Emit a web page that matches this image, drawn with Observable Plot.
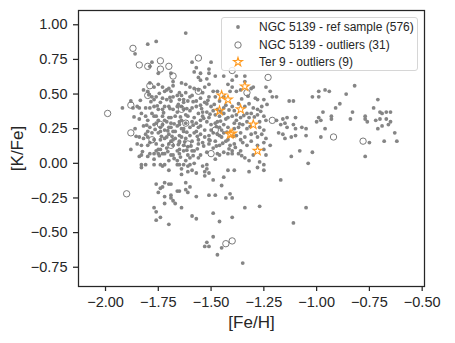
<!DOCTYPE html>
<html><head><meta charset="utf-8">
<script src="https://cdn.jsdelivr.net/npm/d3@7"></script>
<script src="https://cdn.jsdelivr.net/npm/@observablehq/plot@0.6"></script>
<style>
body{margin:0;background:#fff;}
#wrap{position:relative;width:455px;height:343px;font-family:"Liberation Sans",Arial,sans-serif;}
#legend{position:absolute;left:221px;top:17px;width:197px;height:54px;box-sizing:border-box;border:1px solid #d6d6d6;border-radius:3px;background:rgba(255,255,255,0.82);}
.row{position:absolute;left:0;height:18px;width:195px;font-size:12px;color:#262626;white-space:nowrap;}
.row svg{position:absolute;left:6px;top:0;}
.row span{position:absolute;left:37px;top:1px;line-height:16px;}
</style></head>
<body><div id="wrap"><div id="legend"></div></div>
<script>
const xTicks = [-2.0, -1.75, -1.5, -1.25, -1.0, -0.75, -0.5];
const yTicks = [-0.75, -0.5, -0.25, 0, 0.25, 0.5, 0.75, 1.0];
const xLabel = "[Fe/H]";
const yLabel = "[K/Fe]";
const legendLabels = ["NGC 5139 - ref sample (576)", "NGC 5139 - outliers (31)", "Ter 9 - outliers (9)"];

// NGC 5139 reference sample: [Fe/H], [K/Fe]
const refSample = [
[-1.62,0.94],[-1.80,0.86],[-1.76,0.88],[-1.86,0.79],[-1.78,0.73],[-1.79,0.70],[-1.75,0.65],[-1.69,0.65],[-1.68,0.59],[-1.59,0.73],[-1.58,0.66],[-1.62,0.57],[-1.79,0.58],[-1.82,0.53],[-1.80,0.52],[-1.77,0.55],[-1.75,0.57],[-1.73,0.55],[-1.71,0.53],[-1.70,0.54],[-1.69,0.52],[-1.65,0.51],[-1.64,0.49],[-1.62,0.51],[-1.60,0.48],[-1.58,0.54],[-1.78,0.48],[-1.76,0.48],[-1.73,0.47],[-1.71,0.46],[-1.68,0.48],[-1.65,0.46],[-1.63,0.46],[-1.61,0.45],[-1.92,0.40],[-1.88,0.45],[-1.87,0.40],[-1.84,0.40],[-1.81,0.40],[-1.79,0.40],[-1.77,0.41],[-1.75,0.39],[-1.72,0.41],[-1.70,0.41],[-1.68,0.39],[-1.66,0.41],[-1.64,0.41],[-1.63,0.39],[-1.59,0.40],[-1.81,0.34],[-1.80,0.31],[-1.77,0.34],[-1.75,0.31],[-1.73,0.34],[-1.71,0.30],[-1.69,0.33],[-1.67,0.34],[-1.65,0.30],[-1.64,0.31],[-1.61,0.34],[-1.59,0.30],[-1.79,0.26],[-1.77,0.28],[-1.74,0.26],[-1.73,0.28],[-1.70,0.26],[-1.69,0.26],[-1.66,0.27],[-1.65,0.28],[-1.63,0.25],[-1.60,0.26],[-1.80,0.23],[-1.78,0.22],[-1.75,0.22],[-1.72,0.24],[-1.70,0.21],[-1.68,0.23],[-1.65,0.20],[-1.63,0.23],[-1.60,0.20],[-1.84,0.19],[-1.82,0.18],[-1.80,0.19],[-1.77,0.17],[-1.74,0.17],[-1.72,0.18],[-1.69,0.16],[-1.67,0.18],[-1.65,0.16],[-1.62,0.18],[-1.59,0.16],[-1.85,0.14],[-1.83,0.13],[-1.80,0.13],[-1.76,0.14],[-1.73,0.13],[-1.70,0.14],[-1.68,0.13],[-1.65,0.15],[-1.63,0.13],[-1.85,0.41],[-1.83,0.36],
[-1.50,0.73],[-1.57,0.69],[-1.51,0.68],[-1.55,0.65],[-1.51,0.65],[-1.55,0.60],[-1.52,0.61],[-1.48,0.63],[-1.44,0.63],[-1.40,0.60],[-1.38,0.63],[-1.34,0.63],[-1.42,0.57],[-1.40,0.55],[-1.51,0.57],[-1.56,0.53],[-1.54,0.51],[-1.51,0.48],[-1.49,0.52],[-1.48,0.48],[-1.38,0.52],[-1.36,0.53],[-1.31,0.54],[-1.29,0.47],[-1.28,0.46],[-1.24,0.55],[-1.21,0.48],[-1.19,0.48],[-1.13,0.45],[-1.11,0.45],[-1.57,0.45],[-1.55,0.42],[-1.53,0.44],[-1.50,0.41],[-1.47,0.39],[-1.43,0.42],[-1.40,0.41],[-1.39,0.38],[-1.34,0.41],[-1.32,0.43],[-1.30,0.40],[-1.28,0.39],[-1.26,0.41],[-1.56,0.36],[-1.54,0.34],[-1.52,0.37],[-1.51,0.33],[-1.48,0.35],[-1.46,0.34],[-1.44,0.36],[-1.42,0.33],[-1.40,0.34],[-1.38,0.35],[-1.36,0.33],[-1.33,0.36],[-1.32,0.33],[-1.28,0.35],[-1.25,0.34],[-1.24,0.31],[-1.19,0.31],[-1.17,0.28],[-1.14,0.26],[-1.10,0.25],[-1.07,0.26],[-1.05,0.25],[-1.57,0.29],[-1.55,0.27],[-1.52,0.30],[-1.50,0.28],[-1.48,0.29],[-1.46,0.26],[-1.44,0.28],[-1.42,0.26],[-1.39,0.29],[-1.37,0.26],[-1.35,0.28],[-1.33,0.25],[-1.27,0.26],[-1.25,0.24],[-1.57,0.23],[-1.55,0.21],[-1.53,0.24],[-1.51,0.20],[-1.49,0.22],[-1.46,0.20],[-1.44,0.22],[-1.38,0.20],[-1.36,0.22],[-1.34,0.19],[-1.31,0.21],[-1.28,0.19],[-1.26,0.21],[-1.24,0.18],[-1.18,0.22],[-1.15,0.18],[-1.12,0.19],[-1.56,0.17],[-1.54,0.15],[-1.51,0.17],[-1.48,0.16],[-1.46,0.13],[-1.43,0.16],[-1.39,0.14],[-1.36,0.17],[-1.33,0.13],[-1.31,0.16],[-1.28,0.13],[-1.25,0.15],[-1.22,0.13],[-1.56,0.62],[-1.34,0.59],[-1.30,0.55],[-1.25,0.46],[-1.14,0.33],[-1.16,0.32],[-1.15,0.29],[-1.10,0.33],[-1.11,0.28],[-1.16,0.21],[-1.10,0.20],[-1.05,0.20],[-1.22,0.52],
[-1.02,0.48],[-0.99,0.48],[-0.99,0.52],[-0.94,0.52],[-0.86,0.50],[-0.82,0.56],[-0.71,0.46],[-0.73,0.40],[-0.97,0.37],[-0.93,0.34],[-0.91,0.40],[-0.89,0.43],[-0.83,0.37],[-0.84,0.32],[-0.77,0.34],[-0.76,0.30],[-0.70,0.37],[-0.69,0.36],[-0.67,0.37],[-0.65,0.37],[-0.67,0.32],[-0.70,0.32],[-0.69,0.27],[-0.66,0.28],[-0.71,0.25],[-0.63,0.22],[-0.99,0.33],[-1.00,0.30],[-0.98,0.31],[-0.96,0.25],[-0.98,0.19],[-0.75,0.15],[-0.68,0.16],[-0.62,0.16],[-0.96,0.53],[-0.93,0.32],[-0.77,0.32],[-0.72,0.31],[-0.65,0.30],
[-1.88,0.10],[-1.84,0.05],[-1.83,0.06],[-1.79,0.07],[-1.77,0.07],[-1.76,0.09],[-1.75,0.07],[-1.74,0.10],[-1.73,0.07],[-1.72,0.07],[-1.69,0.06],[-1.68,0.06],[-1.65,0.07],[-1.63,0.09],[-1.61,0.06],[-1.60,0.04],[-1.58,0.09],[-1.77,0.03],[-1.83,-0.01],[-1.83,-0.03],[-1.81,-0.01],[-1.77,-0.01],[-1.74,-0.01],[-1.73,-0.02],[-1.72,-0.01],[-1.70,-0.05],[-1.66,0.02],[-1.66,-0.01],[-1.65,-0.01],[-1.63,-0.01],[-1.61,-0.02],[-1.60,-0.01],[-1.59,-0.05],[-1.64,-0.08],[-1.61,-0.06],[-1.76,-0.15],[-1.74,-0.18],[-1.73,-0.17],[-1.72,-0.14],[-1.70,-0.15],[-1.69,-0.15],[-1.75,-0.21],[-1.72,-0.24],[-1.69,-0.23],[-1.69,-0.25],[-1.68,-0.27],[-1.67,-0.29],[-1.66,-0.20],[-1.65,-0.20],[-1.62,-0.19],[-1.61,-0.21],[-1.62,-0.14],[-1.60,-0.17],[-1.72,-0.29],[-1.64,-0.32],[-1.77,-0.32],[-1.76,-0.35],[-1.59,-0.38],[-1.74,-0.39],[-1.76,-0.41],[-1.70,-0.44],[-1.58,0.00],[-1.64,-0.04],
[-1.55,0.06],[-1.47,0.07],[-1.46,0.06],[-1.44,0.08],[-1.42,0.07],[-1.40,0.09],[-1.40,0.07],[-1.37,0.07],[-1.34,0.04],[-1.32,0.02],[-1.30,0.06],[-1.25,0.10],[-1.24,0.06],[-1.27,0.01],[-1.25,-0.01],[-1.28,-0.03],[-1.25,-0.05],[-1.32,-0.06],[-1.12,0.05],[-1.08,0.09],[-1.04,0.00],[-1.17,-0.12],[-1.54,-0.02],[-1.52,-0.01],[-1.52,-0.04],[-1.53,-0.06],[-1.51,-0.07],[-1.53,-0.09],[-1.57,-0.07],[-1.42,-0.05],[-1.39,-0.05],[-1.44,-0.10],[-1.49,-0.12],[-1.45,-0.16],[-1.51,-0.23],[-1.48,-0.23],[-1.43,-0.25],[-1.41,-0.22],[-1.40,-0.25],[-1.57,-0.24],[-1.34,-0.32],[-1.27,-0.31],[-1.49,-0.36],[-1.57,-0.40],[-1.46,-0.42],[-1.40,-0.39],[-1.11,-0.43],[-1.05,-0.32],[-1.49,-0.53],[-1.52,-0.57],[-1.53,-0.60],[-1.51,-0.60],[-1.45,-0.61],[-1.47,-0.66],[-1.35,-0.72],[-1.02,0.08],[-0.77,0.05],
[-1.78,0.36],[-1.76,0.29],[-1.74,0.44],[-1.72,0.31],[-1.71,0.19],[-1.69,0.45],[-1.67,0.23],[-1.66,0.37],[-1.64,0.19],[-1.63,0.44],[-1.62,0.29],[-1.61,0.12],[-1.60,0.38],[-1.58,0.22],[-1.57,0.41],[-1.56,0.14],[-1.55,0.31],[-1.53,0.19],[-1.52,0.43],[-1.50,0.24],[-1.49,0.11],[-1.47,0.30],[-1.46,0.45],[-1.45,0.19],[-1.43,0.32],[-1.41,0.13],[-1.39,0.25],[-1.37,0.43],[-1.35,0.15],[-1.33,0.30],[-1.82,0.27],[-1.79,0.15],[-1.77,0.46],[-1.75,0.10],[-1.73,0.39],[-1.70,0.33],[-1.68,0.17],[-1.66,0.49],[-1.65,0.10],[-1.62,0.35],[-1.59,0.49],[-1.59,0.09],[-1.56,0.26],[-1.54,0.37],[-1.51,0.14],[-1.49,0.38],[-1.47,0.21],[-1.44,0.40],[-1.42,0.17],[-1.38,0.31],[-1.36,0.09],[-1.31,0.36],[-1.29,0.22],[-1.27,0.30],[-1.72,0.52],[-1.68,0.56],[-1.64,0.58],[-1.60,0.55],[-1.55,0.47],[-1.53,0.55],[-1.47,0.52],[-1.44,0.48],[-1.41,0.52],[-1.84,0.32],[-1.86,0.25],[-1.80,0.05],[-1.70,0.02],[-1.62,0.02],[-1.56,0.04],[-1.48,0.03],[-1.66,0.09],[-1.71,0.11],[-1.52,0.08],[-1.45,0.24],[-1.58,0.33],[-1.64,0.25],[-1.69,0.29],[-1.74,0.23],[-1.81,0.21],[-1.76,0.34],
[-1.785,0.445],[-1.755,0.415],[-1.725,0.365],[-1.695,0.395],[-1.675,0.285],[-1.645,0.335],[-1.615,0.225],[-1.585,0.275],[-1.565,0.195],[-1.535,0.325],[-1.505,0.355],[-1.475,0.265],[-1.455,0.305],[-1.425,0.225],[-1.395,0.195],[-1.365,0.285],[-1.345,0.345],[-1.315,0.265],[-1.805,0.275],[-1.765,0.245],[-1.735,0.195],[-1.705,0.235],[-1.685,0.195],[-1.655,0.135],[-1.625,0.155],[-1.595,0.125],[-1.565,0.105],[-1.535,0.125],[-1.505,0.165],[-1.475,0.125],[-1.445,0.145],[-1.415,0.105],[-1.385,0.115],[-1.355,0.055],[-1.745,0.055],[-1.705,0.085],[-1.675,0.035],[-1.645,0.045],[-1.615,0.095],[-1.585,0.055],[-1.825,0.085],[-1.855,0.195],[-1.865,0.335],[-1.835,0.455],[-1.795,0.495],[-1.745,0.505],[-1.695,0.475],[-1.655,0.425],[-1.615,0.395],[-1.585,0.445],[-1.545,0.395],[-1.515,0.455],[-1.485,0.425],[-1.455,0.375],[-1.415,0.385],[-1.355,0.465],[-1.325,0.485],[-1.295,0.335],[-1.265,0.375],[-1.235,0.425]
];

// NGC 5139 outliers
const outliers = [
[-1.87,0.83],[-1.84,0.71],[-1.80,0.70],[-1.74,0.74],[-1.70,0.70],[-1.74,0.68],[-1.68,0.63],[-1.79,0.56],[-1.80,0.49],[-1.88,0.42],[-1.99,0.36],[-1.88,0.22],[-1.78,0.17],[-1.61,0.14],[-1.69,0.13],[-1.56,0.76],[-1.40,0.67],[-1.23,0.62],[-1.33,0.51],[-1.21,0.31],[-0.92,0.19],[-0.78,0.16],[-1.90,-0.22],[-1.43,-0.58],[-1.40,-0.56],[-1.50,0.07],[-1.62,0.29],[-1.56,0.52],[-1.64,0.39],[-1.48,0.24],[-1.74,0.28]
];

// Ter 9 outliers
const ter9 = [
[-1.34,0.555],[-1.45,0.49],[-1.42,0.46],[-1.46,0.38],[-1.36,0.39],[-1.30,0.28],[-1.41,0.21],[-1.40,0.215],[-1.28,0.09]
];

const fmt = d3.format(".2f");
const font = '"Liberation Sans", Arial, sans-serif';
const chart = Plot.plot({
  width: 455, height: 343,
  marginLeft: 78, marginRight: 31, marginTop: 10, marginBottom: 57,
  style: {fontFamily: font, color: "#262626", background: "white", overflow: "visible"},
  x: {domain: [-2.128, -0.489]},
  y: {domain: [-0.889, 1.103]},
  marks: [
    Plot.axisX({ticks: xTicks, tickFormat: fmt, tickSize: 5, tickPadding: 5, fontSize: 14.5, strokeWidth: 1.25, label: null}),
    Plot.axisY({ticks: yTicks, tickFormat: fmt, tickSize: 5, tickPadding: 6, fontSize: 14.5, strokeWidth: 1.25, label: null}),
    Plot.dot(refSample, {x: d => d[0], y: d => d[1], r: 1.9, fill: "#858585", stroke: "none"}),
    Plot.dot(outliers, {x: d => d[0], y: d => d[1], r: 3.2, fill: "none", stroke: "#7a7a7a", strokeWidth: 1}),
    Plot.dot(ter9, {x: d => d[0], y: d => d[1], symbol: "star", r: 2.8, fill: "none", stroke: "#ff9a1f", strokeWidth: 1.1}),
    Plot.frame({stroke: "#262626", strokeWidth: 1.25}),
    Plot.text([xLabel], {text: d => d, frameAnchor: "bottom", lineAnchor: "middle", textAnchor: "middle", dy: 36, fontSize: 17, fill: "#262626"}),
    Plot.text([yLabel], {text: d => d, frameAnchor: "left", lineAnchor: "middle", textAnchor: "middle", rotate: -90, dx: -61, fontSize: 17, fill: "#262626"})
  ]
});
const wrap = document.getElementById("wrap");
wrap.insertBefore(chart, wrap.firstChild);

// legend
const legend = document.getElementById("legend");
const markers = [
  '<circle cx="10" cy="9" r="1.9" fill="#858585"/>',
  '<circle cx="10" cy="9" r="3.2" fill="none" stroke="#7a7a7a" stroke-width="1"/>',
  '<path transform="translate(10,9)" d="' + d3.symbol(d3.symbolStar, Math.PI * 2.8 * 2.8)() + '" fill="none" stroke="#ff9a1f" stroke-width="1.1"/>'
];
legendLabels.forEach((lab, i) => {
  const row = document.createElement("div");
  row.className = "row";
  row.style.top = (0 + i * 17.5) + "px";
  row.innerHTML = '<svg width="20" height="18">' + markers[i] + '</svg><span>' + lab + '</span>';
  legend.appendChild(row);
});
</script>
</body></html>
